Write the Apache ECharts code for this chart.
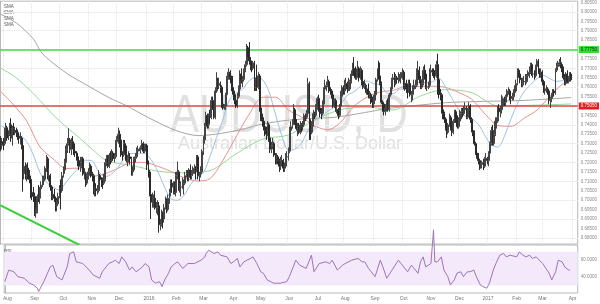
<!DOCTYPE html>
<html><head><meta charset="utf-8">
<script src="https://cdn.jsdelivr.net/npm/echarts@6/dist/echarts.min.js"></script>
<style>html,body{margin:0;padding:0;background:#fff}#c{width:600px;height:304px}</style>
</head><body><div id="c"></div>
<script>
// Daily candles, [open, close, low, high] in pips (price x 10000)
const jul15=[[7320,7290,7260,7340],[7290,7310,7270,7330]];
const aug15=[[7310,7300,7265,7330],[7300,7370,7290,7385],[7370,7385,7345,7410],[7385,7330,7315,7395],[7330,7350,7320,7370],[7350,7400,7340,7410],[7400,7330,7310,7435],[7330,7380,7290,7395],[7380,7370,7345,7410],[7370,7370,7345,7390],[7370,7360,7335,7385],[7360,7340,7320,7375],[7340,7330,7300,7355],[7330,7330,7295,7360],[7330,7290,7270,7340],[7290,7140,7045,7300],[7140,7180,7110,7210],[7180,7130,7110,7200],[7130,7170,7100,7190],[7170,7140,7110,7200],[7140,7110,7090,7160]];
const sep15=[[7110,7040,7010,7130],[7040,7030,7000,7080],[7030,7020,6990,7070],[7020,6930,6915,7040],[6930,6940,6907,6960],[6940,7020,6930,7030],[7020,7010,6990,7080],[7010,7060,6980,7070],[7060,7080,7040,7100],[7080,7110,7070,7130],[7110,7110,7080,7130],[7110,7170,7100,7180],[7170,7220,7150,7240],[7220,7130,7110,7230],[7130,7130,7100,7170],[7130,7070,7050,7140],[7070,7020,7000,7080],[7020,7030,7000,7060],[7030,7010,6990,7060],[7010,6970,6940,7020],[6970,6980,6940,7000],[6980,7020,6970,7040]];
const oct15=[[7020,7060,7010,7080],[7060,7050,6950,7110],[7050,7130,7040,7150],[7130,7160,7120,7180],[7160,7200,7140,7220],[7200,7270,7190,7290],[7270,7300,7250,7330],[7300,7320,7290,7382],[7320,7270,7250,7330],[7270,7310,7240,7330],[7310,7300,7270,7340],[7300,7260,7240,7310],[7260,7250,7230,7280],[7250,7230,7210,7260],[7230,7210,7180,7250],[7210,7180,7160,7230],[7180,7200,7150,7230],[7200,7220,7170,7230],[7220,7140,7130,7230],[7140,7140,7110,7170],[7140,7090,7070,7150],[7090,7130,7080,7140]];
const nov15=[[7130,7150,7110,7170],[7150,7180,7130,7200],[7180,7140,7120,7190],[7140,7130,7100,7150],[7130,7050,7030,7140],[7050,7060,7020,7070],[7060,7050,7020,7090],[7050,7050,7030,7080],[7050,7130,7040,7160],[7130,7120,7100,7140],[7120,7110,7070,7120],[7110,7090,7060,7120],[7090,7110,7080,7140],[7110,7200,7100,7220],[7200,7230,7180,7240],[7230,7180,7170,7240],[7180,7240,7170,7250],[7240,7210,7190,7260],[7210,7250,7200,7270],[7250,7220,7210,7260],[7220,7230,7200,7250]];
const dec15=[[7230,7310,7220,7320],[7310,7320,7290,7340],[7320,7350,7300,7385],[7350,7320,7280,7370],[7320,7250,7230,7330],[7250,7240,7210,7260],[7240,7300,7230,7320],[7300,7270,7250,7320],[7270,7210,7200,7290],[7210,7220,7180,7240],[7220,7230,7200,7260],[7230,7220,7190,7250],[7220,7150,7130,7230],[7150,7160,7130,7180],[7160,7220,7150,7230],[7220,7230,7200,7250],[7230,7260,7220,7280],[7260,7270,7250,7290],[7270,7270,7260,7280],[7270,7280,7250,7290],[7280,7300,7270,7320],[7300,7260,7250,7310],[7260,7290,7250,7300]];
const jan16=[[7290,7290,7280,7300],[7290,7190,7160,7300],[7190,7150,7120,7210],[7150,7030,7020,7160],[7030,6990,6900,7050],[6990,6990,6960,7040],[6990,7010,6960,7030],[7010,6960,6950,7050],[6960,6960,6930,6990],[6960,6970,6920,7000],[6970,6870,6827,6990],[6870,6870,6840,6900],[6870,6930,6860,6950],[6930,6900,6850,6940],[6900,6960,6880,6980],[6960,7000,6950,7020],[7000,6950,6930,7010],[6950,7010,6940,7030],[7010,7040,6980,7060],[7040,7090,7020,7110],[7090,7070,7040,7110]];
const feb16=[[7070,7080,7030,7100],[7080,7040,7030,7100],[7040,7130,7020,7150],[7130,7150,7110,7205],[7150,7070,7050,7160],[7070,7070,7040,7090],[7070,7070,7020,7100],[7070,7090,7060,7120],[7090,7090,7030,7110],[7090,7130,7080,7150],[7130,7140,7120,7160],[7140,7120,7100,7160],[7120,7160,7100,7170],[7160,7130,7110,7190],[7130,7140,7110,7160],[7140,7150,7130,7180],[7150,7170,7140,7190],[7170,7160,7110,7180],[7160,7230,7150,7240],[7230,7130,7110,7240],[7130,7140,7100,7150]];
const mar16=[[7140,7150,7120,7180],[7150,7260,7140,7270],[7260,7320,7240,7340],[7320,7390,7300,7410],[7390,7450,7370,7470],[7450,7400,7380,7460],[7400,7450,7380,7460],[7450,7440,7410,7480],[7440,7530,7430,7550],[7530,7500,7480,7550],[7500,7440,7430,7520],[7440,7580,7430,7600],[7580,7630,7570,7680],[7630,7610,7590,7650],[7610,7620,7590,7650],[7620,7600,7570,7630],[7600,7510,7490,7610],[7510,7490,7480,7530],[7490,7500,7480,7510],[7500,7560,7480,7570],[7560,7650,7540,7660],[7650,7680,7640,7700],[7680,7660,7640,7680]];
const apr16=[[7660,7650,7620,7690],[7650,7580,7560,7660],[7580,7560,7530,7600],[7560,7530,7510,7580],[7530,7500,7490,7560],[7500,7550,7490,7570],[7550,7590,7540,7610],[7590,7670,7580,7690],[7670,7640,7620,7700],[7640,7640,7600,7660],[7640,7690,7630,7700],[7690,7720,7680,7740],[7720,7810,7710,7830],[7810,7780,7760,7820],[7780,7740,7720,7840],[7740,7710,7690,7760],[7710,7700,7680,7730],[7700,7730,7690,7740],[7730,7600,7580,7740],[7600,7640,7580,7650],[7640,7600,7580,7720]];
const may16=[[7600,7660,7590,7680],[7660,7490,7470,7670],[7490,7430,7420,7510],[7430,7420,7390,7460],[7420,7390,7370,7440],[7390,7370,7340,7400],[7370,7350,7320,7390],[7350,7400,7340,7420],[7400,7330,7310,7410],[7330,7270,7250,7340],[7270,7290,7250,7310],[7290,7300,7270,7330],[7300,7240,7230,7310],[7240,7220,7190,7250],[7220,7230,7190,7250],[7230,7210,7190,7240],[7210,7180,7150,7220],[7180,7210,7160,7230],[7210,7210,7190,7240],[7210,7170,7150,7220],[7170,7180,7150,7200],[7180,7230,7170,7250]];
const jun16=[[7230,7230,7200,7260],[7230,7260,7210,7280],[7260,7370,7250,7390],[7370,7390,7360,7420],[7390,7410,7380,7430],[7410,7480,7400,7510],[7480,7420,7400,7490],[7420,7380,7370,7430],[7380,7390,7340,7410],[7390,7360,7350,7410],[7360,7400,7350,7420],[7400,7390,7360,7410],[7390,7400,7370,7420],[7400,7450,7390,7460],[7450,7440,7420,7460],[7440,7460,7430,7480],[7460,7620,7450,7650],[7620,7410,7320,7630],[7410,7360,7320,7430],[7360,7400,7350,7420],[7400,7460,7390,7480],[7460,7450,7430,7470]];
const jul16=[[7450,7490,7440,7510],[7490,7540,7480,7550],[7540,7490,7470,7560],[7490,7470,7440,7500],[7470,7460,7430,7490],[7460,7510,7450,7530],[7510,7590,7500,7600],[7590,7610,7570,7640],[7610,7610,7580,7630],[7610,7630,7600,7660],[7630,7590,7570,7640],[7590,7580,7560,7600],[7580,7560,7540,7590],[7560,7500,7490,7570],[7500,7530,7490,7540],[7530,7480,7470,7540],[7480,7480,7460,7500],[7480,7450,7430,7490],[7450,7500,7440,7510],[7500,7550,7490,7580],[7550,7600,7540,7610]];
const aug16=[[7600,7580,7560,7610],[7580,7600,7560,7640],[7600,7620,7590,7650],[7620,7590,7570,7630],[7590,7590,7580,7650],[7590,7630,7580,7640],[7630,7670,7620,7690],[7670,7700,7660,7730],[7700,7690,7660,7760],[7690,7650,7640,7710],[7650,7680,7640,7700],[7680,7700,7670,7740],[7700,7650,7630,7710],[7650,7690,7640,7710],[7690,7630,7610,7700],[7630,7600,7590,7640],[7600,7610,7590,7640],[7610,7590,7570,7620],[7590,7590,7560,7610],[7590,7560,7540,7620],[7560,7560,7540,7580],[7560,7540,7510,7570],[7540,7520,7490,7550]];
const sep16=[[7520,7530,7490,7560],[7530,7560,7510,7580],[7560,7640,7550,7650],[7640,7670,7630,7700],[7670,7660,7640,7740],[7660,7620,7610,7730],[7620,7520,7510,7630],[7520,7510,7470,7530],[7510,7470,7450,7520],[7470,7490,7450,7510],[7490,7520,7470,7530],[7520,7480,7470,7540],[7480,7560,7470,7570],[7560,7590,7550,7600],[7590,7640,7570,7650],[7640,7650,7620,7670],[7650,7620,7600,7680],[7620,7650,7610,7670],[7650,7640,7620,7660],[7640,7650,7620,7680],[7650,7650,7630,7670],[7650,7650,7620,7680]];
const oct16=[[7650,7680,7640,7700],[7680,7610,7590,7690],[7610,7620,7580,7640],[7620,7590,7570,7640],[7590,7580,7540,7620],[7580,7620,7570,7640],[7620,7560,7550,7640],[7560,7560,7520,7580],[7560,7590,7530,7610],[7590,7610,7580,7640],[7610,7610,7590,7640],[7610,7680,7600,7700],[7680,7690,7670,7740],[7690,7640,7620,7710],[7640,7600,7590,7660],[7600,7620,7590,7640],[7620,7690,7610,7710],[7690,7670,7640,7720],[7670,7600,7590,7690],[7600,7600,7580,7630],[7600,7610,7590,7630]];
const nov16=[[7610,7680,7600,7700],[7680,7690,7660,7720],[7690,7680,7660,7700],[7680,7670,7650,7700],[7670,7660,7640,7690],[7660,7720,7650,7740],[7720,7640,7560,7778],[7640,7570,7540,7650],[7570,7560,7530,7590],[7560,7480,7460,7570],[7480,7460,7430,7500],[7460,7430,7410,7470],[7430,7380,7370,7440],[7380,7360,7330,7390],[7360,7400,7350,7410],[7400,7440,7390,7460],[7440,7380,7370,7450],[7380,7360,7340,7400],[7360,7420,7350,7430],[7420,7470,7410,7480],[7470,7430,7410,7480],[7430,7390,7380,7450]];
const dec16=[[7390,7420,7380,7440],[7420,7460,7410,7480],[7460,7470,7430,7490],[7470,7460,7440,7490],[7460,7480,7450,7500],[7480,7490,7460,7520],[7490,7440,7430,7500],[7440,7480,7430,7490],[7480,7500,7470,7520],[7500,7430,7410,7510],[7430,7370,7360,7440],[7370,7360,7340,7390],[7360,7300,7290,7370],[7300,7250,7240,7310],[7250,7230,7220,7260],[7230,7210,7190,7250],[7210,7170,7160,7220],[7170,7190,7170,7200],[7190,7200,7170,7210],[7200,7180,7160,7220],[7180,7220,7170,7230],[7220,7220,7190,7250]];
const jan17=[[7220,7210,7190,7230],[7210,7250,7180,7260],[7250,7300,7230,7310],[7300,7370,7290,7390],[7370,7300,7290,7400],[7300,7350,7290,7370],[7350,7420,7340,7440],[7420,7420,7380,7440],[7420,7490,7410,7500],[7490,7470,7450,7510],[7470,7480,7440,7500],[7480,7500,7460,7560],[7500,7540,7490,7550],[7540,7520,7500,7550],[7520,7550,7500,7560],[7550,7570,7540,7590],[7570,7580,7560,7600],[7580,7550,7530,7590],[7550,7540,7510,7570],[7540,7550,7530,7570],[7550,7580,7530,7590],[7580,7580,7550,7610]];
const feb17=[[7580,7620,7570,7640],[7620,7690,7610,7700],[7690,7670,7650,7700],[7670,7640,7620,7680],[7640,7620,7600,7650],[7620,7630,7600,7650],[7630,7630,7610,7660],[7630,7630,7610,7670],[7630,7660,7620,7670],[7660,7670,7640,7690],[7670,7680,7650,7710],[7680,7720,7670,7730],[7720,7670,7660,7730],[7670,7670,7650,7690],[7670,7660,7640,7690],[7660,7710,7650,7720],[7710,7740,7700,7750],[7740,7680,7670,7750],[7680,7660,7650,7700],[7660,7680,7650,7700]];
const mar17=[[7680,7630,7610,7690],[7630,7580,7570,7640],[7580,7590,7560,7610],[7590,7590,7570,7610],[7590,7580,7560,7600],[7580,7530,7510,7590],[7530,7540,7490,7550],[7540,7560,7520,7570],[7560,7580,7550,7590],[7580,7570,7550,7590],[7570,7690,7560,7700],[7690,7710,7680,7730],[7710,7720,7700,7740],[7720,7730,7710,7750],[7730,7720,7700,7760],[7720,7700,7680,7730],[7700,7650,7640,7710],[7650,7620,7610,7670],[7620,7670,7610,7680],[7670,7630,7620,7690],[7630,7650,7620,7660],[7650,7670,7640,7680],[7670,7640,7630,7680]];

// Moving averages: [day index, pips]
const smaFast=[[-0.5,7400],[5,7375],[10,7360],[15,7345],[20,7310],[25,7240],[30,7147],[35,7095],[40,7069],[45,7054],[50,7096],[55,7137],[60,7174],[65,7212],[70,7208],[75,7150],[80,7125],[85,7140],[90,7176],[95,7228],[100,7248],[105,7249],[110,7248],[115,7215],[120,7154],[125,7074],[130,7008],[135,6999],[140,7024],[145,7082],[150,7120],[155,7146],[160,7233],[165,7333],[170,7432],[175,7535],[180,7569],[185,7590],[190,7635],[195,7652],[200,7641],[205,7578],[210,7457],[215,7340],[220,7264],[225,7272],[230,7305],[235,7372],[240,7422],[245,7441],[250,7473],[255,7492],[260,7511],[265,7558],[270,7575],[275,7605],[280,7633],[285,7619],[290,7613],[295,7570],[300,7565],[305,7590],[310,7590],[315,7610],[320,7625],[325,7624],[330,7629],[335,7647],[340,7600],[345,7539],[350,7482],[355,7447],[360,7433],[365,7403],[370,7345],[375,7294],[380,7282],[385,7340],[390,7432],[395,7515],[400,7576],[405,7614],[410,7646],[415,7662],[420,7644],[425,7631],[430,7635],[436,7638]];
const smaMid=[[-0.5,7581],[10,7505],[20,7419],[30,7283],[40,7220],[50,7168],[60,7170],[70,7127],[80,7141],[90,7170],[100,7201],[110,7200],[120,7180],[130,7153],[140,7119],[150,7102],[160,7114],[170,7213],[180,7338],[190,7457],[200,7546],[210,7547],[220,7479],[230,7441],[240,7394],[250,7374],[260,7415],[270,7499],[280,7547],[290,7575],[300,7583],[310,7606],[320,7604],[330,7605],[340,7599],[350,7572],[360,7536],[370,7459],[380,7397],[390,7392],[400,7435],[410,7479],[420,7554],[430,7620],[436,7637]];
const smaSlow=[[-0.5,7703],[10,7660],[20,7600],[30,7530],[40,7454],[50,7390],[60,7332],[70,7270],[80,7213],[90,7195],[100,7185],[120,7154],[140,7145],[160,7157],[180,7246],[200,7324],[220,7346],[240,7426],[260,7481],[280,7494],[300,7479],[320,7551],[340,7587],[360,7571],[380,7501],[400,7503],[420,7507],[436,7511]];
const smaLong=[[-0.5,7990],[12,7941],[25,7856],[32,7777],[50,7676],[60,7634],[83,7544],[96,7502],[113,7438],[134,7370],[151,7343],[164,7350],[184,7375],[197,7400],[214,7420],[234,7433],[255,7440],[278,7465],[295,7486],[316,7502],[341,7518],[370,7525],[400,7530],[436,7545]];
// RSI: [day index, value] (one bad tick spikes out of the panel)
const rsi=[[0,34.5],[3,48.2],[7,46.2],[10,40.4],[15,38.5],[19,32.6],[22,30.6],[25,26.7],[26,22.7],[30,34.5],[35,52],[37,54],[40,40.4],[44,36.5],[48,52],[50,67.9],[53,69.8],[55,58],[60,56],[65,48.2],[68,42.4],[73,38.5],[75,46.2],[80,56],[83,58],[85,60],[88,56],[90,63.9],[93,58],[96,48.2],[98,52],[101,46.2],[106,52],[108,56],[111,52],[113,36.5],[116,32.6],[119,34.5],[121,28.6],[123,36.5],[126,44.4],[128,52],[131,56],[133,58],[137,50.2],[141,56],[146,56],[151,60],[154,63.9],[155,67.9],[157,71.8],[161,67.9],[164,69.8],[166,65.9],[171,63.9],[174,56],[176,58],[179,62],[181,52],[184,58],[189,62],[191,63.9],[194,56],[197,46.2],[199,44.4],[202,36.5],[207,32.6],[212,32.6],[217,34.5],[219,40.4],[222,52],[224,60],[227,54],[232,50.2],[236,65.9],[238,46.2],[242,56],[247,58],[250,56],[252,60],[256,48.2],[260,54],[262,56],[267,60],[272,62],[275,58],[277,58],[280,50.2],[285,40.4],[289,60],[291,52],[294,38.5],[298,48.2],[303,60],[305,56],[308,50.2],[310,46.2],[313,54],[318,44.4],[320,58],[322,63.9],[324,52],[328,56],[329,58],[330,96],[331,58],[333,58],[336,63.9],[338,48.2],[341,40.4],[343,30.6],[346,36.5],[348,44.4],[351,46.2],[353,40.4],[356,46.2],[358,46.2],[361,48.2],[363,40.4],[366,30.6],[368,28.6],[371,26.7],[373,32.6],[376,48.2],[378,56],[381,65.9],[384,67.9],[386,63.9],[389,65.9],[394,63.9],[396,69.8],[399,65.9],[401,63.9],[404,65.9],[406,62],[409,63.9],[414,56],[419,44.4],[421,36.5],[424,46.2],[426,60],[429,58],[431,52],[434,48.2],[435,48.2]];
const trendLine=[[-0.4,6973],[60.2,6762]];
const resistance=0.7775, support=0.7505;
const monthStarts=[2,23,45,67,88,111,132,153,176,197,219,241,262,285,307,328,350,372,394,414,437];
const monthLabels=['Aug','Sep','Oct','Nov','Dec','2016','Feb','Mar','Apr','May','Jun','Jul','Aug','Sep','Oct','Nov','Dec','2017','Feb','Mar','Apr'];
const yTicks=[0.680,0.685,0.690,0.695,0.700,0.705,0.710,0.715,0.720,0.725,0.730,0.735,0.740,0.745,0.750,0.755,0.760,0.765,0.770,0.775,0.780,0.785,0.790,0.795,0.800,0.805];
const rsiTicks=[60,40];
const rsiBand=[30,70];

const months=[jul15,aug15,sep15,oct15,nov15,dec15,jan16,feb16,mar16,apr16,may16,jun16,jul16,aug16,sep16,oct16,nov16,dec16,jan17,feb17,mar17];
const candles=[].concat(...months).map((c,i)=>[i,c[0]/1e4,c[1]/1e4,c[2]/1e4,c[3]/1e4]);
const lastClose=candles[candles.length-1][2];
const P=a=>a.map(p=>[p[0],p[1]/1e4]);
const FONT='"Liberation Sans", Arial, sans-serif';

const chart=echarts.init(document.getElementById('c'),null,{renderer:'canvas'});
const maLine=(data,color)=>({type:'line',xAxisIndex:0,yAxisIndex:0,data:P(data),smooth:0.3,showSymbol:false,symbol:'none',silent:true,lineStyle:{color,width:1},z:3});
chart.setOption({
  animation:false,
  backgroundColor:'#fff',
  grid:[
    {left:0,right:17,top:0,height:244,show:true,borderColor:'#b8b8b8',borderWidth:1},
    {left:0,right:17,top:245,height:48,show:true,borderColor:'#b8b8b8',borderWidth:1}
  ],
  xAxis:[
    {type:'value',gridIndex:0,min:-0.5,max:441,show:false,splitLine:{show:false}},
    {type:'value',gridIndex:1,min:-0.5,max:441,axisLine:{show:false},axisTick:{show:false},splitLine:{show:false},
     axisLabel:{customValues:monthStarts,fontSize:5,color:'#777',margin:3,fontFamily:FONT,
       formatter:v=>monthLabels[monthStarts.indexOf(v)]||''}}
  ],
  yAxis:[
    {type:'value',gridIndex:0,position:'right',min:0.6767,max:0.8057,splitLine:{show:false},
     axisLine:{show:true,lineStyle:{color:'#b8b8b8'}},axisTick:{show:false},
     axisLabel:{customValues:yTicks,fontSize:4.5,color:'#888',margin:3,fontFamily:FONT,formatter:v=>v.toFixed(5)}},
    {type:'value',gridIndex:1,position:'right',min:21,max:78,splitLine:{show:false},
     axisLine:{show:true,lineStyle:{color:'#b8b8b8'}},axisTick:{show:false},
     axisLabel:{customValues:rsiTicks,fontSize:4.5,color:'#888',margin:3,fontFamily:FONT,formatter:v=>v.toFixed(4)}}
  ],
  graphic:[
    {type:'text',x:289,y:117,z:-10,scaleX:0.8,silent:true,style:{text:'AUDUSD, D',font:'54px '+FONT,fill:'#e0e0e0',align:'center',verticalAlign:'middle'}},
    {type:'text',x:290,y:144,z:-10,silent:true,style:{text:'Australian Dollar/U.S. Dollar',font:'18px '+FONT,fill:'#e0e0e0',align:'center',verticalAlign:'middle'}},
    {type:'text',x:4,y:4,style:{text:'SMA',font:'4.5px '+FONT,fill:'#555'}},
    {type:'text',x:4,y:10,style:{text:'SMA',font:'4.5px '+FONT,fill:'#555'}},
    {type:'text',x:4,y:16,style:{text:'SMA',font:'4.5px '+FONT,fill:'#555'}},
    {type:'text',x:4,y:22,style:{text:'SMA',font:'4.5px '+FONT,fill:'#555'}},
    {type:'text',x:4,y:249,style:{text:'RSI',font:'4.5px '+FONT,fill:'#555'}}
  ],
  series:[
    {type:'line',xAxisIndex:0,yAxisIndex:0,data:[],silent:true,
     markLine:{silent:true,symbol:'none',z:0,label:{show:false},animation:false,
       data:yTicks.map(v=>({yAxis:v,lineStyle:{color:'#efefef',width:1,type:'solid'}}))
         .concat(monthStarts.map(v=>({xAxis:v,lineStyle:{color:'#e6e6e6',width:1,type:'dotted'}})))}},
    {type:'line',xAxisIndex:1,yAxisIndex:1,data:[],silent:true,
     markArea:{silent:true,itemStyle:{color:'#f3e9fb'},data:[[{yAxis:rsiBand[0]},{yAxis:rsiBand[1]}]]}},
    maLine(smaLong,'#a5a5a5'),
    maLine(smaSlow,'#98d898'),
    maLine(smaMid,'#e89090'),
    maLine(smaFast,'#9cc0e0'),
    {type:'line',xAxisIndex:0,yAxisIndex:0,data:P(trendLine),showSymbol:false,symbol:'none',silent:true,lineStyle:{color:'#3ccf3c',width:2},z:4},
    {type:'candlestick',xAxisIndex:0,yAxisIndex:0,data:candles,encode:{x:0,y:[1,2,3,4]},barWidth:1.4,z:5,
     itemStyle:{color:'#ffffff',borderColor:'#444',color0:'#2a2a2a',borderColor0:'#2a2a2a',borderWidth:1},
     markLine:{silent:true,symbol:'none',animation:false,
       data:[
         {yAxis:resistance,lineStyle:{color:'#44d844',width:1.5,type:'solid'},
          label:{show:true,position:'end',distance:1,formatter:resistance.toFixed(5),fontSize:4.5,fontFamily:FONT,color:'#030',backgroundColor:'#33dd33',padding:[1,2]}},
         {yAxis:support,lineStyle:{color:'#dd4a4a',width:1.5,type:'solid'},
          label:{show:true,position:'end',distance:1,formatter:support.toFixed(5),fontSize:4.5,fontFamily:FONT,color:'#fff',backgroundColor:'#e02020',padding:[1,2]}},
         {yAxis:lastClose,lineStyle:{color:'#999',width:0,opacity:0},
          label:{show:true,position:'end',distance:1,formatter:lastClose.toFixed(5),fontSize:4.5,fontFamily:FONT,color:'#fff',backgroundColor:'#9a9a9a',padding:[1,2]}}
       ]}},
    {type:'line',xAxisIndex:1,yAxisIndex:1,data:rsi,clip:false,showSymbol:false,symbol:'none',silent:true,lineStyle:{color:'#9d74b8',width:1},z:5}
  ]
});
</script></body></html>
